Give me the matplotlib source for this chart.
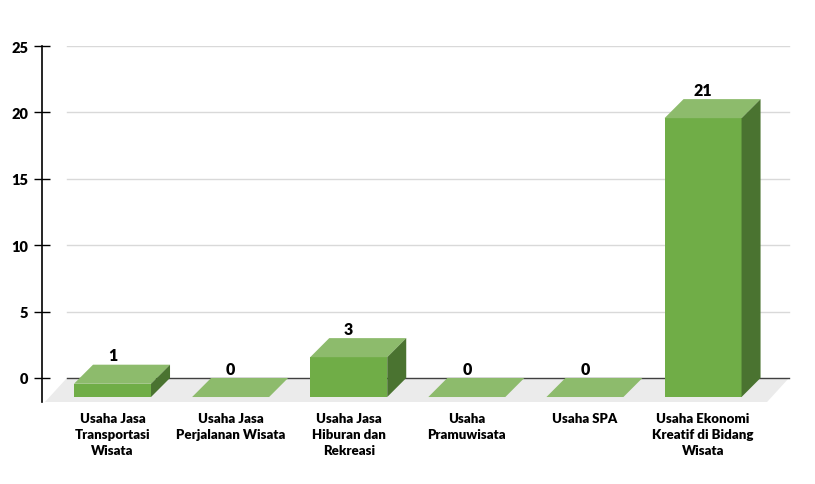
import matplotlib.pyplot as plt
from matplotlib.patches import Polygon

categories = ['Usaha Jasa\nTransportasi\nWisata', 'Usaha Jasa\nPerjalanan Wisata',
              'Usaha Jasa\nHiburan dan\nRekreasi', 'Usaha\nPramuwisata',
              'Usaha SPA', 'Usaha Ekonomi\nKreatif di Bidang\nWisata']
values = [1, 0, 3, 0, 0, 21]
y_ticks = [0, 5, 10, 15, 20, 25]

plt.rcParams['font.family'] = ['Lato', 'DejaVu Sans']

fig = plt.figure(figsize=(8.15, 4.85), dpi=100)
ax = fig.add_axes([42 / 815, 82 / 485, 773 / 815, 356 / 485])
ax.set_xlim(-0.597, 5.948)
ax.set_ylim(-1.81, 25)

# 3D look: depth offset of the bars and the floor (data units)
w = 0.652
dx, dy = 0.161, 1.435
fdx, fdy = 0.186, 1.81

front = '#70ad47'
top = '#8dbb6c'
side = '#4a7330'

# floor
x0, x1 = -0.572, 5.542
ax.add_patch(Polygon([(x0, -fdy), (x1, -fdy), (x1 + fdx, 0), (x0 + fdx, 0)],
                     closed=True, facecolor='#ebebeb', edgecolor='none', zorder=1))

# gridlines on the back wall
for t in y_ticks[1:]:
    ax.plot([x0 + fdx, x1 + fdx], [t, t], color='#d9d9d9', lw=1, zorder=2)
ax.plot([x0 + fdx, x1 + fdx], [0, 0], color='#404040', lw=1, zorder=2)

for i, v in enumerate(values):
    l, r = i - w / 2, i + w / 2
    ax.add_patch(Polygon([(l, -dy), (r, -dy), (r, v - dy), (l, v - dy)],
                         closed=True, facecolor=front, edgecolor='none', zorder=3))
    ax.add_patch(Polygon([(l, v - dy), (r, v - dy), (r + dx, v), (l + dx, v)],
                         closed=True, facecolor=top, edgecolor='none', zorder=3))
    if v > 0:
        ax.add_patch(Polygon([(r, -dy), (r + dx, 0), (r + dx, v), (r, v - dy)],
                             closed=True, facecolor=side, edgecolor='none', zorder=3))
    ax.text(i, v + 0.7, str(v), ha='center', va='center', fontsize=11.5,
            fontweight='heavy', color='black', zorder=4)

for s in ['top', 'right', 'bottom']:
    ax.spines[s].set_visible(False)
ax.spines['left'].set_linewidth(1.2)
ax.set_yticks(y_ticks)
ax.set_yticklabels([str(t) for t in y_ticks], fontsize=10.5, fontweight='heavy')
ax.tick_params(axis='y', direction='inout', length=12, width=1, pad=4)

ax.set_xticks(range(len(categories)))
ax.set_xticklabels(categories, fontsize=9.5, fontweight='heavy', linespacing=1.4)
ax.tick_params(axis='x', length=0, pad=7)

fig.savefig('out.png', dpi=100)
